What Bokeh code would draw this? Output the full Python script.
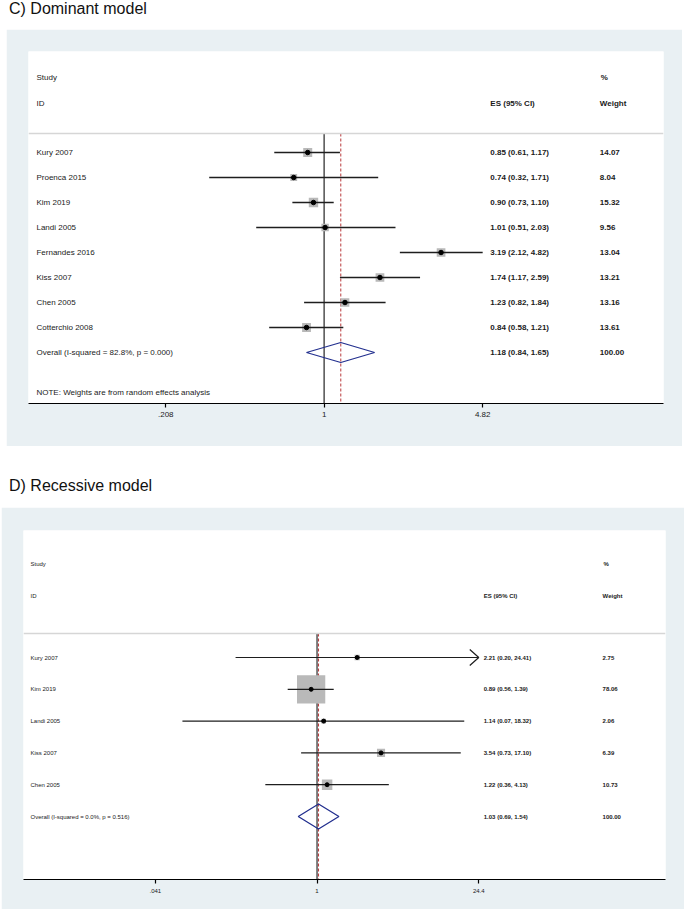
import math
from bokeh.plotting import figure
from bokeh.models import Range1d, FixedTicker, ColumnDataSource, Span, Div, LinearScale
from bokeh.layouts import column
from bokeh.core.properties import value
from bokeh.embed import file_html
from bokeh.resources import INLINE

# ---------------- data: C) Dominant model ----------------
c_studies = ["Kury 2007", "Proenca 2015", "Kim 2019", "Landi 2005",
             "Fernandes 2016", "Kiss 2007", "Chen 2005", "Cotterchio 2008"]
c_es = [0.85, 0.74, 0.90, 1.01, 3.19, 1.74, 1.23, 0.84]
c_lo = [0.61, 0.32, 0.73, 0.51, 2.12, 1.17, 0.82, 0.58]
c_hi = [1.17, 1.71, 1.10, 2.03, 4.82, 2.59, 1.84, 1.21]
c_weight = [14.07, 8.04, 15.32, 9.56, 13.04, 13.21, 13.16, 13.61]
c_overall = [1.18, 0.84, 1.65]
c_overall_weight = 100.00
c_overall_label = "Overall  (I-squared = 82.8%, p = 0.000)"
c_ticks = [0.208, 1, 4.82]
c_tick_labels = [".208", "1", "4.82"]
c_note = "NOTE: Weights are from random effects analysis"

# ---------------- data: D) Recessive model ----------------
d_studies = ["Kury 2007", "Kim 2019", "Landi 2005", "Kiss 2007", "Chen 2005"]
d_es = [2.21, 0.89, 1.14, 3.54, 1.22]
d_lo = [0.20, 0.56, 0.07, 0.73, 0.36]
d_hi = [24.41, 1.39, 18.32, 17.10, 4.13]
d_weight = [2.75, 78.06, 2.06, 6.39, 10.73]
d_overall = [1.03, 0.69, 1.54]
d_overall_weight = 100.00
d_overall_label = "Overall  (I-squared = 0.0%, p = 0.516)"
d_ticks = [0.041, 1, 24.4]
d_tick_labels = [".041", "1", "24.4"]

null_value = 1

FONT = "Liberation Sans"
BOX_BG = "#e9f0f3"
TXT = "#1a1a1a"


def panel(studies, es, lo, hi, weight, overall, overall_weight, overall_label,
          ticks, tick_labels, g, note=None):
    k = g["px_per_ln"]
    xr = Range1d(math.exp((g["frame_left"] - g["one_px"]) / k),
                 math.exp((g["frame_right"] - g["one_px"]) / k))
    to_row = lambda py: (py - g["row0"]) / g["step"]
    y_bottom = to_row(g["frame_bottom"])
    yr = Range1d(start=y_bottom, end=to_row(g["frame_top"]))

    p = figure(width=g["fig_w"], height=g["fig_h"], x_axis_type="log",
               x_range=xr, y_range=yr, output_backend="svg",
               toolbar_location=None, y_axis_location=None,
               min_border_left=g["left"], min_border_right=g["right"],
               min_border_top=g["top"], min_border_bottom=g["bottom"],
               background_fill_color="white", border_fill_color=BOX_BG,
               outline_line_color=None, margin=(0, 0, 0, g["margin_left"]))
    p.grid.visible = False
    p.extra_x_ranges = {"px": Range1d(g["frame_left"], g["frame_right"])}
    p.extra_x_scales = {"px": LinearScale()}

    ax = p.xaxis[0]
    ax.ticker = FixedTicker(ticks=ticks, minor_ticks=[])
    ax.major_label_overrides = {t: l for t, l in zip(ticks, tick_labels)}
    ax.axis_line_color = "black"
    ax.axis_line_width = 1.2
    ax.major_tick_in = 0
    ax.major_tick_out = 4
    ax.major_tick_line_color = "black"
    ax.major_tick_line_width = 1.2
    ax.minor_tick_line_color = None
    ax.major_label_text_font = FONT
    ax.major_label_text_font_size = g["tick_font"]
    ax.major_label_text_color = TXT
    ax.major_label_standoff = g["tick_standoff"]

    n = len(studies)
    rows = list(range(n))
    ov_row = n
    sep = to_row(g["sep_y"])

    # separator under headers
    p.add_layout(Span(location=sep, dimension="width", line_color="#d6d6d6",
                      line_width=1.5))
    # null line and overall line
    p.segment(x0=[null_value], y0=[sep], x1=[null_value], y1=[y_bottom],
              line_color=g["null_color"], line_width=g["null_w"])
    p.segment(x0=[overall[0]], y0=[sep], x1=[overall[0]], y1=[y_bottom],
              line_color="#b8393b", line_width=1, line_dash="3 2")

    # weight boxes
    sizes = [g["box_k"] * math.sqrt(w) for w in weight]
    p.scatter(x=es, y=rows, size=sizes, marker="square",
              fill_color="#b9b9b9", line_color=None)

    # confidence intervals (clipped to the axis ticks, with arrows)
    tmax, tmin = max(ticks), min(ticks)
    x0 = [max(l, tmin) for l in lo]
    x1 = [min(h, tmax) for h in hi]
    p.segment(x0=x0, y0=rows, x1=x1, y1=rows, line_color="#1e1e1e",
              line_width=g["ci_w"])
    arm_len = math.exp(-g["arrow_len"] / k)
    arm_h = g["arrow_half"] / g["step"]
    for r, h in zip(rows, hi):
        if h > tmax:
            back = tmax * arm_len
            p.line(x=[back, tmax, back], y=[r - arm_h, r, r + arm_h],
                   line_color="#1e1e1e", line_width=g["ci_w"])

    # point estimates
    p.scatter(x=es, y=rows, size=g["dot"], marker="circle",
              fill_color="black", line_color="black")

    # overall diamond
    dh = g["diamond_half"] / g["step"]
    p.patch(x=[overall[1], overall[0], overall[2], overall[0]],
            y=[ov_row, ov_row - dh, ov_row, ov_row + dh],
            fill_color=None, line_color="#23308f", line_width=1.3)

    # text columns
    names = studies + [overall_label]
    es_txt = [f"{e:.2f} ({l:.2f}, {h:.2f})" for e, l, h in zip(es, lo, hi)]
    es_txt.append(f"{overall[0]:.2f} ({overall[1]:.2f}, {overall[2]:.2f})")
    w_txt = [f"{w:.2f}" for w in weight] + [f"{overall_weight:.2f}"]
    all_rows = rows + [ov_row]

    common = dict(x_range_name="px", text_font=value(FONT),
                  text_font_size=g["font"], text_baseline="middle",
                  text_align="left", text_color=TXT)
    name_src = ColumnDataSource(dict(x=[g["name_x"]] * (n + 1), y=all_rows, t=names))
    p.text(x="x", y="y", text="t", source=name_src, **common)
    es_src = ColumnDataSource(dict(x=[g["es_x"]] * (n + 1), y=all_rows, t=es_txt))
    p.text(x="x", y="y", text="t", source=es_src, text_font_style="bold", **common)
    w_src = ColumnDataSource(dict(x=[g["w_x"]] * (n + 1), y=all_rows, t=w_txt))
    p.text(x="x", y="y", text="t", source=w_src, text_font_style="bold", **common)

    hdr = ColumnDataSource(dict(
        x=[g["name_x"], g["name_x"]],
        y=[to_row(g["study_y"]), to_row(g["id_y"])],
        t=["Study", "ID"]))
    p.text(x="x", y="y", text="t", source=hdr, **common)
    hdr_b = ColumnDataSource(dict(
        x=[g["es_x"], g["w_x"] + 1, g["w_x"]],
        y=[to_row(g["id_y"]), to_row(g["study_y"]), to_row(g["id_y"])],
        t=["ES (95% CI)", "%", "Weight"]))
    p.text(x="x", y="y", text="t", source=hdr_b, text_font_style="bold", **common)
    if note:
        p.text(x=[g["name_x"]], y=[to_row(g["note_y"])], text=[note], **common)
    return p


c_geom = dict(fig_w=676, fig_h=417, left=22, right=16, top=22, bottom=43,
              frame_left=28, frame_right=666, frame_top=51, frame_bottom=403,
              one_px=325, px_per_ln=101.3, row0=152, step=25,
              name_x=36, es_x=492, w_x=602, font="8px", tick_font="8px",
              tick_standoff=4, study_y=77, id_y=103, sep_y=133, note_y=392,
              box_k=2.4, dot=4.5, diamond_half=10, ci_w=1.3, margin_left=6,
              null_color="#111111", null_w=1.1, arrow_len=9, arrow_half=8)
d_geom = dict(fig_w=683, fig_h=402, left=21, right=19, top=23, bottom=30,
              frame_left=22, frame_right=665, frame_top=530, frame_bottom=879,
              one_px=316, px_per_ln=50.7, row0=657, step=31.8,
              name_x=29, es_x=483, w_x=602, font="6px", tick_font="6px",
              tick_standoff=5, study_y=563, id_y=595, sep_y=633, note_y=None,
              box_k=3.2, dot=4, diamond_half=12.5, ci_w=1.2, margin_left=1,
              null_color="#4a4a4a", null_w=1.4, arrow_len=9, arrow_half=8)

pc = panel(c_studies, c_es, c_lo, c_hi, c_weight, c_overall, c_overall_weight,
           c_overall_label, c_ticks, c_tick_labels, c_geom, note=c_note)
pd_ = panel(d_studies, d_es, d_lo, d_hi, d_weight, d_overall, d_overall_weight,
            d_overall_label, d_ticks, d_tick_labels, d_geom)

title_style = ("font-family:'Liberation Sans',Arial,sans-serif;font-size:16px;"
               "line-height:16px;color:#111;white-space:nowrap;")
div_c = Div(text=f'<div style="{title_style}padding:1px 0 0 9px">C) Dominant model</div>',
            width=670, height=29, margin=(0, 0, 0, 0))
div_d = Div(text=f'<div style="{title_style}padding:32px 0 0 9px">D) Recessive model</div>',
            width=670, height=61, margin=(0, 0, 0, 0))

root = column(div_c, pc, div_d, pd_, margin=(0, 0, 0, 0), spacing=0)

open("out.html", "w").write(file_html(root, INLINE))
